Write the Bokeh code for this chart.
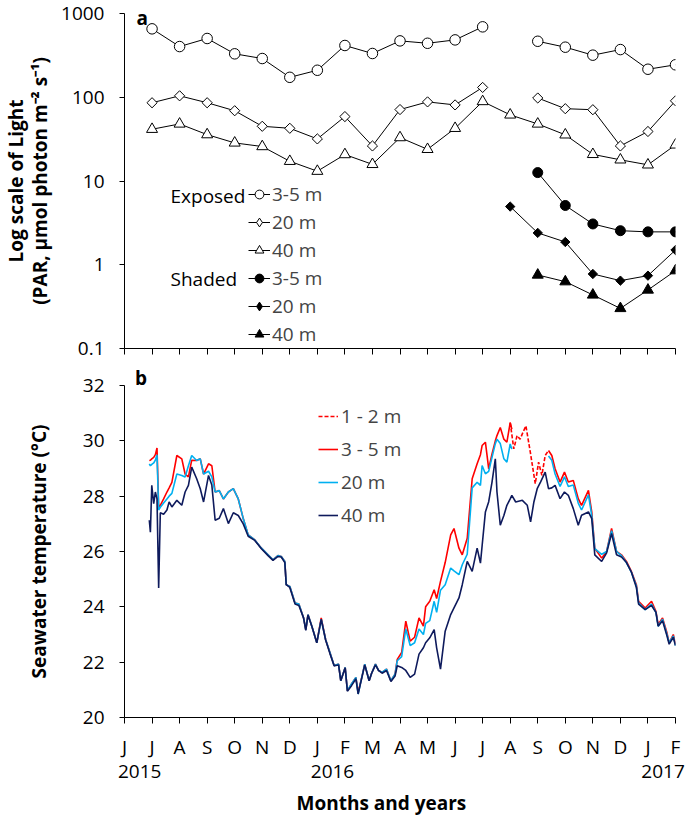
import math
from bokeh.plotting import figure
from bokeh.layouts import column
from bokeh.models import Range1d, FixedTicker, LinearAxis, Legend, LegendItem, Label, Title
from bokeh.embed import file_html
from bokeh.resources import INLINE

NaN = float("nan")
FONT = "Open Sans"
FS = "19px"

# ---------------- data ----------------
# x axis: months since June 2015 (0 = Jun 2015 ... 20 = Feb 2017)
month_letters = ["J", "J", "A", "S", "O", "N", "D", "J", "F", "M", "A", "M",
                 "J", "J", "A", "S", "O", "N", "D", "J", "F"]
year_ticks = [0, 7, 19]
year_labels = ["2015", "2016", "2017"]

# panel a: monthly light (PAR), Jul 2015 .. Feb 2017
light_months = list(range(1, 21))
exposed_3_5 = [656, 403, 503, 330, 290, 173, 210, 415, 333, 471, 441, 484, 693, NaN,
               466, 396, 318, 371, 216, 244]
exposed_20 = [86, 104, 86, 69, 45, 42.6, 31.8, 58.8, 26.2, 71.3, 88, 81, 131, NaN,
              98, 73, 71, 26.2, 39, 90.6]
exposed_40 = [41.5, 48, 35.8, 28.5, 25.8, 17.2, 13.1, 20.7, 15.8, 33, 23.9, 42.6, 89, 61.6,
              48, 35.6, 20.8, 17.9, 15.6, 27]
shaded_3_5 = [NaN] * 14 + [12.6, 5.1, 3.07, 2.55, 2.47, 2.47]
shaded_20 = [NaN] * 13 + [4.95, 2.40, 1.87, 0.776, 0.646, 0.741, 1.50]
shaded_40 = [NaN] * 14 + [0.755, 0.628, 0.436, 0.301, 0.50, 0.85]

# panel b: seawater temperature (deg C)
temp_months = [0.90, 0.94, 0.99, 1.06, 1.12, 1.18, 1.24, 1.30, 1.42, 1.54, 1.62, 1.72, 1.90,
               2.08, 2.20, 2.32, 2.44, 2.62, 2.75, 2.87, 3.05, 3.17, 3.29, 3.44, 3.59, 3.77,
               3.95, 4.13, 4.31, 4.49, 4.73, 4.97, 5.21, 5.39, 5.57, 5.69, 5.82, 5.87, 6.00,
               6.19, 6.33, 6.50, 6.58, 6.66, 6.80, 6.98, 7.14, 7.30, 7.46, 7.61, 7.77, 7.85,
               8.01, 8.09, 8.24, 8.40, 8.48, 8.64, 8.72, 8.88, 8.97, 9.11, 9.22, 9.35, 9.51,
               9.67, 9.82, 9.90, 10.06, 10.21, 10.37, 10.53, 10.69, 10.85, 10.93, 11.08,
               11.24, 11.33, 11.47, 11.64, 11.84, 11.96, 12.14, 12.26, 12.44, 12.62, 12.80,
               12.92, 12.98, 13.10, 13.22, 13.34, 13.46, 13.52, 13.64, 13.77, 13.88, 14.00,
               14.06, 14.20, 14.44, 14.62, 14.74, 14.86, 14.98, 15.10, 15.27, 15.39, 15.51,
               15.63, 15.81, 15.97, 16.11, 16.29, 16.47, 16.59, 16.84, 16.96, 17.07, 17.32,
               17.50, 17.68, 17.86, 18.04, 18.22, 18.40, 18.58, 18.66, 18.90, 19.13, 19.29,
               19.37, 19.53, 19.69, 19.77, 19.92, 20.00]
temp_3_5 = [29.29, 29.30, 29.35, 29.40, 29.50, 29.74, 27.60, 27.67, 27.90, 28.15, 28.30, 28.50,
            29.47, 29.35, 28.80, 28.70, 29.30, 29.29, 29.35, 28.80, 29.17, 29.10, 28.15, 28.20,
            27.90, 28.15, 28.27, 27.90, 27.19, 26.60, 26.42, 26.12, 25.88, 25.70, 25.85, 25.82,
            25.64, 24.80, 24.74, 24.14, 24.10, 23.60, 23.18, 23.72, 23.30, 22.70, 23.60, 22.82,
            22.34, 21.87, 21.93, 21.33, 21.81, 20.97, 21.21, 21.45, 20.91, 21.57, 21.93, 21.33,
            21.60, 21.93, 21.70, 21.63, 21.75, 21.33, 21.57, 22.10, 22.35, 23.48, 22.76, 22.90,
            23.60, 23.30, 24.00, 24.20, 24.62, 24.30, 24.92, 25.60, 26.60, 26.83, 26.12, 25.88,
            26.48, 28.63, 29.17, 29.50, 29.83, 29.95, 28.99, 29.53, 30.00, 30.19, 30.48, 30.06,
            29.95, 30.66, 30.42, NaN, NaN, NaN, NaN, NaN, NaN, NaN, NaN, 29.65, 29.47,
            28.99, 28.51, 28.87, 28.51, 28.57, 27.91, 27.67, 28.21, 27.43, 26.12, 25.76,
            26.00, 26.83, 26.00, 25.88, 25.64, 25.28, 24.80, 24.20, 23.96, 24.20, 23.84,
            23.36, 23.60, 23.06, 22.70, 23.00, 22.64]
temp_20 = [29.17, 29.10, 29.15, 29.20, 29.30, 29.50, 27.50, 27.60, 27.75, 27.90, 28.00, 28.10,
           28.80, 28.75, 28.69, 29.10, 29.47, 29.29, 29.35, 28.80, 28.90, 28.70, 28.15, 28.20,
           27.90, 28.15, 28.27, 27.90, 27.19, 26.60, 26.42, 26.12, 25.88, 25.70, 25.85, 25.82,
           25.64, 24.80, 24.74, 24.14, 24.10, 23.60, 23.18, 23.72, 23.30, 22.70, 23.55, 22.82,
           22.34, 21.87, 21.93, 21.33, 21.81, 20.97, 21.21, 21.45, 20.85, 21.57, 21.93, 21.33,
           21.60, 21.93, 21.70, 21.63, 21.75, 21.33, 21.57, 22.05, 22.20, 23.20, 22.60, 22.70,
           23.20, 23.00, 23.40, 23.50, 24.20, 23.80, 24.60, 24.80, 25.40, 25.30, 25.16, 25.52,
           25.90, 28.30, 28.50, 28.39, 29.11, 28.81, 28.90, 29.40, 29.90, 30.06, 29.90, 29.35,
           29.23, 29.89, 29.70, NaN, NaN, NaN, NaN, NaN, NaN, NaN, NaN, 29.45, 29.30,
           28.80, 28.35, 28.70, 28.35, 28.40, 27.75, 27.50, 28.05, 27.30, 26.10, 25.90,
           26.00, 26.75, 26.00, 25.85, 25.60, 25.25, 24.75, 24.15, 23.90, 24.10, 23.80,
           23.30, 23.55, 23.00, 22.70, 22.95, 22.60]
temp_40 = [27.13, 26.70, 28.39, 27.73, 28.15, 27.90, 24.68, 27.40, 27.35, 27.50, 27.79, 27.61,
           27.85, 27.67, 28.15, 28.39, 29.05, 28.63, 28.27, 27.79, 28.75, 28.40, 27.13, 27.20,
           27.55, 27.01, 27.40, 27.30, 27.00, 26.55, 26.40, 26.10, 25.85, 25.68, 25.82, 25.80,
           25.60, 24.80, 24.70, 24.10, 24.05, 23.60, 23.15, 23.70, 23.30, 22.70, 23.55, 22.80,
           22.30, 21.87, 21.90, 21.33, 21.80, 20.95, 21.15, 21.40, 20.85, 21.55, 21.90, 21.33,
           21.60, 21.90, 21.70, 21.60, 21.70, 21.30, 21.50, 21.87, 21.81, 21.70, 21.45, 21.57,
           22.29, 22.52, 22.70, 22.88, 23.18, 22.52, 21.75, 23.12, 23.72, 23.96, 24.32, 24.80,
           25.64, 25.28, 26.12, 25.58, 26.20, 27.43, 27.80, 28.51, 29.35, 28.15, 26.95, 27.30,
           27.67, 27.90, 28.03, 27.79, 27.85, 27.67, 27.07, 27.79, 28.27, 28.51, 28.87, 28.27,
           28.30, 28.39, 27.91, 28.15, 28.03, 27.55, 26.95, 27.31, 27.43, 27.19, 25.88, 25.64,
           25.95, 26.65, 25.88, 25.80, 25.60, 25.25, 24.70, 24.10, 23.90, 24.05, 23.80,
           23.30, 23.50, 22.95, 22.65, 22.90, 22.60]
temp_1_2_months = [14.00, 14.13, 14.25, 14.36, 14.46, 14.57, 14.73, 14.91, 15.03, 15.15, 15.27, 15.39]
temp_1_2 = [30.66, 29.71, 30.19, 30.06, 30.30, 30.54, 29.59, 28.45, 29.23, 28.75, 29.47, 29.65]

RED = "#FF0000"
CYAN = "#00B0F0"
NAVY = "#0E1A5C"

# layout constants (pixels)
W = 685
LEFT, RIGHT = 121, 10
P1_TOP, P1_BOTTOM = 13, 13
P2_TOP, P2_BOTTOM = 21, 110
FRAME_H = 335
TOP_H = P1_TOP + FRAME_H + P1_BOTTOM
BOT_H = P2_TOP + FRAME_H + P2_BOTTOM
YEAR_SHIFT = 0.55   # months: places each year text starting at its first month
TAG_X = 0.6         # months: horizontal place of the panel letters


def style_axis(ax):
    ax.axis_line_color = "black"
    ax.axis_line_width = 1
    ax.major_tick_line_color = "black"
    ax.major_tick_in = 0
    ax.major_tick_out = 6
    ax.minor_tick_line_color = None
    ax.major_label_text_font = FONT
    ax.major_label_text_font_size = FS
    ax.major_label_text_color = "black"
    ax.axis_label_text_font = FONT
    ax.axis_label_text_font_size = FS
    ax.axis_label_text_font_style = "bold"
    ax.axis_label_text_color = "black"


def text_label(p, txt, x, y, bold=False, align="left"):
    p.add_layout(Label(x=x, y=y, x_units="screen", y_units="screen", text=txt,
                       text_align=align, text_baseline="middle",
                       text_font=FONT, text_font_size=FS,
                       text_font_style="bold" if bold else "normal", text_color="black"))


# ---------------- panel a ----------------
p1 = figure(width=W, height=TOP_H, x_range=Range1d(0, 20), y_range=Range1d(0.1, 1000),
            y_axis_type="log", output_backend="svg", toolbar_location=None,
            min_border_left=LEFT, min_border_right=RIGHT,
            min_border_top=P1_TOP, min_border_bottom=P1_BOTTOM)
p1.outline_line_color = None
p1.grid.visible = False
x1_axis = p1.below[0]
y1_axis = p1.left[0]
style_axis(x1_axis)
style_axis(y1_axis)
x1_axis.ticker = FixedTicker(ticks=list(range(21)), minor_ticks=[])
x1_axis.major_label_overrides = {i: "" for i in range(21)}
x1_axis.major_label_standoff = 0
y1_axis.ticker = FixedTicker(ticks=[0.1, 1, 10, 100, 1000], minor_ticks=[])
y1_axis.major_label_overrides = {0.1: "0.1", 1: "1", 10: "10", 100: "100", 1000: "1000"}
y1_axis.major_tick_out = 5
y1_axis.major_label_standoff = 15
y1_axis.axis_label = "Log scale of Light\n(PAR, \u00b5mol photon m\u207b\u00b2 s\u207b\u00b9)"
y1_axis.axis_label_text_line_height = 0.92
y1_axis.axis_label_standoff = 5


def light_series(ys, marker, fill, size, angle=0.0):
    rl = p1.line(light_months, ys, line_color="black", line_width=1)
    rs = p1.scatter(light_months, ys, marker=marker, size=size, angle=angle,
                    fill_color=fill, line_color="black", line_width=1)
    return [rl, rs]


r_e35 = light_series(exposed_3_5, "circle", "white", 10.5)
r_e20 = light_series(exposed_20, "square", "white", 7.2, math.pi / 4)
r_e40 = light_series(exposed_40, "triangle", "white", 11)
r_s35 = light_series(shaded_3_5, "circle", "black", 10)
r_s20 = light_series(shaded_20, "square", "black", 6.6, math.pi / 4)
r_s40 = light_series(shaded_40, "triangle", "black", 11)

# hidden twins used only for the legend key (the legend draws markers unrotated)
key_open_diamond = p1.scatter(light_months, exposed_20, marker="diamond", fill_color="white",
                              line_color="black", line_width=1, visible=False)
key_full_diamond = p1.scatter(light_months, shaded_20, marker="diamond", fill_color="black",
                              line_color="black", line_width=1, visible=False)

leg1 = Legend(items=[LegendItem(label="3-5 m", renderers=r_e35),
                     LegendItem(label="20 m", renderers=[r_e20[0], key_open_diamond]),
                     LegendItem(label="40 m", renderers=r_e40),
                     LegendItem(label="3-5 m", renderers=r_s35),
                     LegendItem(label="20 m", renderers=[r_s20[0], key_full_diamond]),
                     LegendItem(label="40 m", renderers=r_s40)],
              location=(124, 1))
leg1.border_line_color = None
leg1.background_fill_alpha = 0
leg1.padding = 0
leg1.margin = 0
leg1.spacing = 2
leg1.glyph_width = 22
leg1.glyph_height = 24
leg1.label_height = 20
leg1.label_standoff = 2
leg1.label_text_font = FONT
leg1.label_text_font_size = FS
p1.add_layout(leg1)

text_label(p1, "Exposed", 46, 153)
text_label(p1, "Shaded", 46, 70)
text_label(p1, "a", 12, FRAME_H - 4, bold=True)

# ---------------- panel b ----------------
p2 = figure(width=W, height=BOT_H, x_range=Range1d(0, 20), y_range=Range1d(20, 32),
            output_backend="svg", toolbar_location=None,
            min_border_left=LEFT, min_border_right=RIGHT,
            min_border_top=P2_TOP, min_border_bottom=P2_BOTTOM)
p2.outline_line_color = None
p2.grid.visible = False
month_axis = p2.below[0]
y2_axis = p2.left[0]
year_axis = LinearAxis(ticker=FixedTicker(ticks=[t + YEAR_SHIFT for t in year_ticks], minor_ticks=[]),
                       major_label_overrides={t + YEAR_SHIFT: s for t, s in zip(year_ticks, year_labels)})
tag_axis = LinearAxis(ticker=FixedTicker(ticks=[TAG_X], minor_ticks=[]),
                      major_label_overrides={TAG_X: "b"})
for ax in (month_axis, y2_axis, year_axis, tag_axis):
    style_axis(ax)
p2.add_layout(year_axis, "below")
p2.add_layout(Title(text="Months and years", align="left", offset=172, standoff=14,
                    text_font=FONT, text_font_size=FS, text_font_style="bold",
                    text_color="black"), "below")
p2.add_layout(tag_axis, "above")

month_axis.ticker = FixedTicker(ticks=list(range(21)), minor_ticks=[])
month_axis.major_label_overrides = {i: s for i, s in enumerate(month_letters)}
month_axis.major_label_standoff = 10
year_axis.axis_line_color = None
year_axis.major_tick_line_color = None
year_axis.major_tick_out = 0
year_axis.major_label_standoff = 2
tag_axis.axis_line_color = None
tag_axis.major_tick_line_color = None
tag_axis.major_tick_out = 0
tag_axis.major_label_standoff = -5
tag_axis.major_label_text_font_style = "bold"
y2_axis.ticker = FixedTicker(ticks=[20, 22, 24, 26, 28, 30, 32], minor_ticks=[])
y2_axis.major_tick_out = 5
y2_axis.major_label_standoff = 15
y2_axis.axis_label = "Seawater temperature (\u00b0C)"
y2_axis.axis_label_standoff = 28

r12 = p2.line(temp_1_2_months, temp_1_2, line_color=RED, line_width=1.6, line_dash="4 2")
r35 = p2.line(temp_months, temp_3_5, line_color=RED, line_width=1.6)
r20 = p2.line(temp_months, temp_20, line_color=CYAN, line_width=1.6)
r40 = p2.line(temp_months, temp_40, line_color=NAVY, line_width=1.6)

leg2 = Legend(items=[LegendItem(label="1 - 2 m", renderers=[r12]),
                     LegendItem(label="3 - 5 m", renderers=[r35]),
                     LegendItem(label="20 m", renderers=[r20]),
                     LegendItem(label="40 m", renderers=[r40])],
              location=(194, 189))
leg2.border_line_color = None
leg2.background_fill_alpha = 0
leg2.padding = 0
leg2.margin = 0
leg2.spacing = 7
leg2.glyph_width = 20
leg2.glyph_height = 20
leg2.label_height = 20
leg2.label_standoff = 3
leg2.label_text_font = FONT
leg2.label_text_font_size = FS
p2.add_layout(leg2)

layout = column(p1, p2, spacing=0)
open("out.html", "w").write(file_html(layout, INLINE))
